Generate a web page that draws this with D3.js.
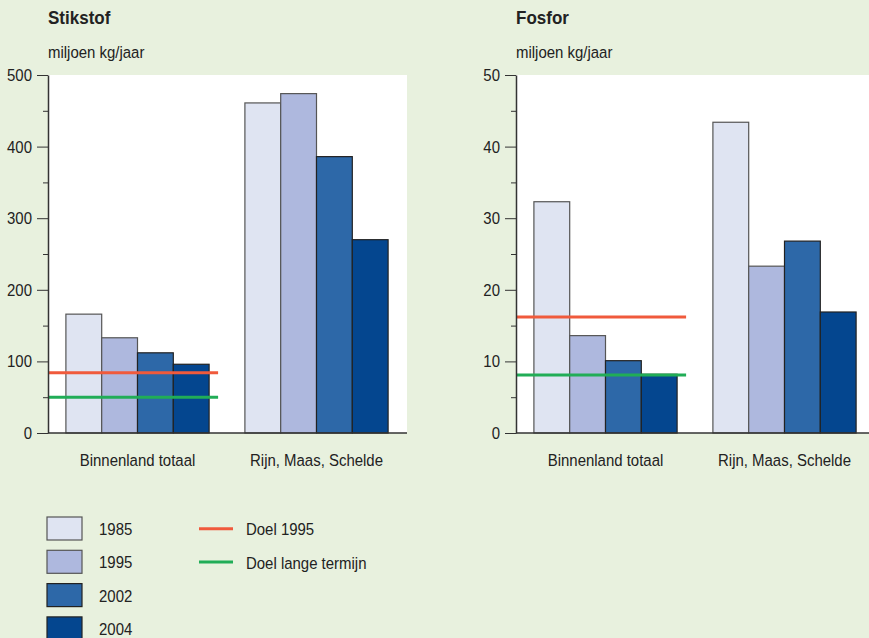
<!DOCTYPE html>
<html>
<head>
<meta charset="utf-8">
<script src="https://cdn.jsdelivr.net/npm/d3@7"></script>
<style>
  body { margin: 0; background: #e8f1de; }
  svg { display: block; font-family: "Liberation Sans", Arial, sans-serif; }
</style>
</head>
<body>
<script>
'use strict';

var width = 869,
    height = 638;

// chart data
var groups = ["Binnenland totaal", "Rijn, Maas, Schelde"];
var years = ["1985", "1995", "2002", "2004"];

var stikstof1985 = [166, 461],
    stikstof1995 = [133, 474],
    stikstof2002 = [112, 386],
    stikstof2004 = [96, 270];
var stikstofDoel1995 = 84,
    stikstofDoelLang = 50;

var fosfor1985 = [32.3, 43.4],
    fosfor1995 = [13.6, 23.3],
    fosfor2002 = [10.1, 26.8],
    fosfor2004 = [8.2, 16.9];
var fosforDoel1995 = 16.2,
    fosforDoelLang = 8.1;

var stikstofTicks = [0, 100, 200, 300, 400, 500];
var fosforTicks = [0, 10, 20, 30, 40, 50];

var yearColors = ["#dfe4f2", "#aeb8de", "#2d68a8", "#04468f"];
var yearStrokes = ["#555", "#555", "#222", "#222"];
var doelColors = ["#f05a3c", "#21ad57"];
var doelLabels = ["Doel 1995", "Doel lange termijn"];

// the original uses a condensed face, so squeeze the text a bit
var fontSize = "17px",
    squeeze = 0.88;

var svg = d3.select("body").append("svg")
    .attr("width", width)
    .attr("height", height);

svg.append("rect")
    .attr("width", width)
    .attr("height", height)
    .attr("fill", "#e8f1de");

function narrowText(sel, x, y) {
  return sel.append("text")
      .attr("transform", "translate(" + x + "," + y + ") scale(" + squeeze + ",1)")
      .style("font-size", fontSize)
      .style("fill", "#222");
}

function drawChart(left, title, series, doel, maxY, ticks) {
  var top = 75, bottom = 433, plotW = 359;
  var g = svg.append("g").attr("transform", "translate(" + left + ",0)");

  var y = d3.scaleLinear().domain([0, maxY]).range([bottom, top]);
  var x0 = d3.scaleBand().domain(groups).range([0, 358])
      .paddingInner(0.2).paddingOuter(0.1);
  var x1 = d3.scaleBand().domain(years).range([0, x0.bandwidth()]);

  g.append("text")
      .attr("transform", "translate(0,24) scale(0.92,1)")
      .style("font-size", "18.5px").style("font-weight", "bold")
      .style("fill", "#222")
      .text(title);
  narrowText(g, 0, 58).text("miljoen kg/jaar");

  g.append("rect")
      .attr("x", 0).attr("y", top)
      .attr("width", plotW).attr("height", bottom - top)
      .attr("fill", "#fff");

  // bars
  var rows = [];
  groups.forEach(function(gr, gi) {
    years.forEach(function(yr, yi) {
      rows.push({group: gr, year: yr, yi: yi, value: series[yi][gi]});
    });
  });

  g.append("g").selectAll("rect")
    .data(rows)
    .enter().append("rect")
      .attr("x", function(d) { return x0(d.group) + x1(d.year); })
      .attr("y", function(d) { return y(d.value); })
      .attr("width", x1.bandwidth())
      .attr("height", function(d) { return bottom - y(d.value); })
      .attr("fill", function(d) { return yearColors[d.yi]; })
      .attr("stroke", function(d) { return yearStrokes[d.yi]; })
      .attr("stroke-width", 1.2);

  // target lines over the first group
  var lineEnd = x0(groups[0]) + x0.bandwidth() + 9;
  g.append("g").selectAll("line")
    .data(doel)
    .enter().append("line")
      .attr("x1", 0)
      .attr("x2", lineEnd)
      .attr("y1", function(d) { return y(d); })
      .attr("y2", function(d) { return y(d); })
      .attr("stroke", function(d, i) { return doelColors[i]; })
      .attr("stroke-width", 3);

  // minor ticks
  var minor = ticks.slice(0, -1).map(function(t, i) { return (t + ticks[i + 1]) / 2; });
  g.append("g")
      .call(d3.axisLeft(y).tickValues(minor).tickSize(5).tickFormat(""))
      .call(function(a) { a.select(".domain").remove(); })
      .selectAll("line").attr("stroke", "#333");

  var axis = g.append("g")
      .call(d3.axisLeft(y).tickValues(ticks).tickSize(11).tickPadding(5).tickSizeOuter(0));
  axis.select(".domain").attr("stroke", "#333").attr("stroke-width", 1.5);
  axis.selectAll("line").attr("stroke", "#333");
  axis.selectAll("text")
      .attr("x", -16 / squeeze)
      .attr("transform", "scale(" + squeeze + ",1)")
      .style("font-size", fontSize)
      .style("font-family", "Liberation Sans, Arial, sans-serif")
      .attr("fill", "#222");

  g.append("line")
      .attr("x1", 0).attr("x2", plotW)
      .attr("y1", bottom).attr("y2", bottom)
      .attr("stroke", "#333").attr("stroke-width", 1.5);

  groups.forEach(function(d) {
    narrowText(g, x0(d) + x0.bandwidth() / 2, 466)
        .attr("text-anchor", "middle")
        .text(d);
  });
}

drawChart(48, "Stikstof",
    [stikstof1985, stikstof1995, stikstof2002, stikstof2004],
    [stikstofDoel1995, stikstofDoelLang], 500, stikstofTicks);

drawChart(516, "Fosfor",
    [fosfor1985, fosfor1995, fosfor2002, fosfor2004],
    [fosforDoel1995, fosforDoelLang], 50, fosforTicks);

// legend
var legend = svg.append("g");

var yearItem = legend.selectAll(".year")
    .data(years)
    .enter().append("g")
      .attr("class", "year")
      .attr("transform", function(d, i) { return "translate(47," + (517 + i * 33.3) + ")"; });
yearItem.append("rect")
    .attr("width", 35).attr("height", 23)
    .attr("fill", function(d, i) { return yearColors[i]; })
    .attr("stroke", function(d, i) { return yearStrokes[i]; })
    .attr("stroke-width", 1.2);
yearItem.each(function(d) {
  narrowText(d3.select(this), 52, 18).text(d);
});

var doelItem = legend.selectAll(".doel")
    .data(doelLabels)
    .enter().append("g")
      .attr("class", "doel")
      .attr("transform", function(d, i) { return "translate(199," + (528.7 + i * 33.3) + ")"; });
doelItem.append("line")
    .attr("x1", 0).attr("x2", 34)
    .attr("stroke", function(d, i) { return doelColors[i]; })
    .attr("stroke-width", 3);
doelItem.each(function(d) {
  narrowText(d3.select(this), 47, 6.5).text(d);
});
</script>
</body>
</html>
